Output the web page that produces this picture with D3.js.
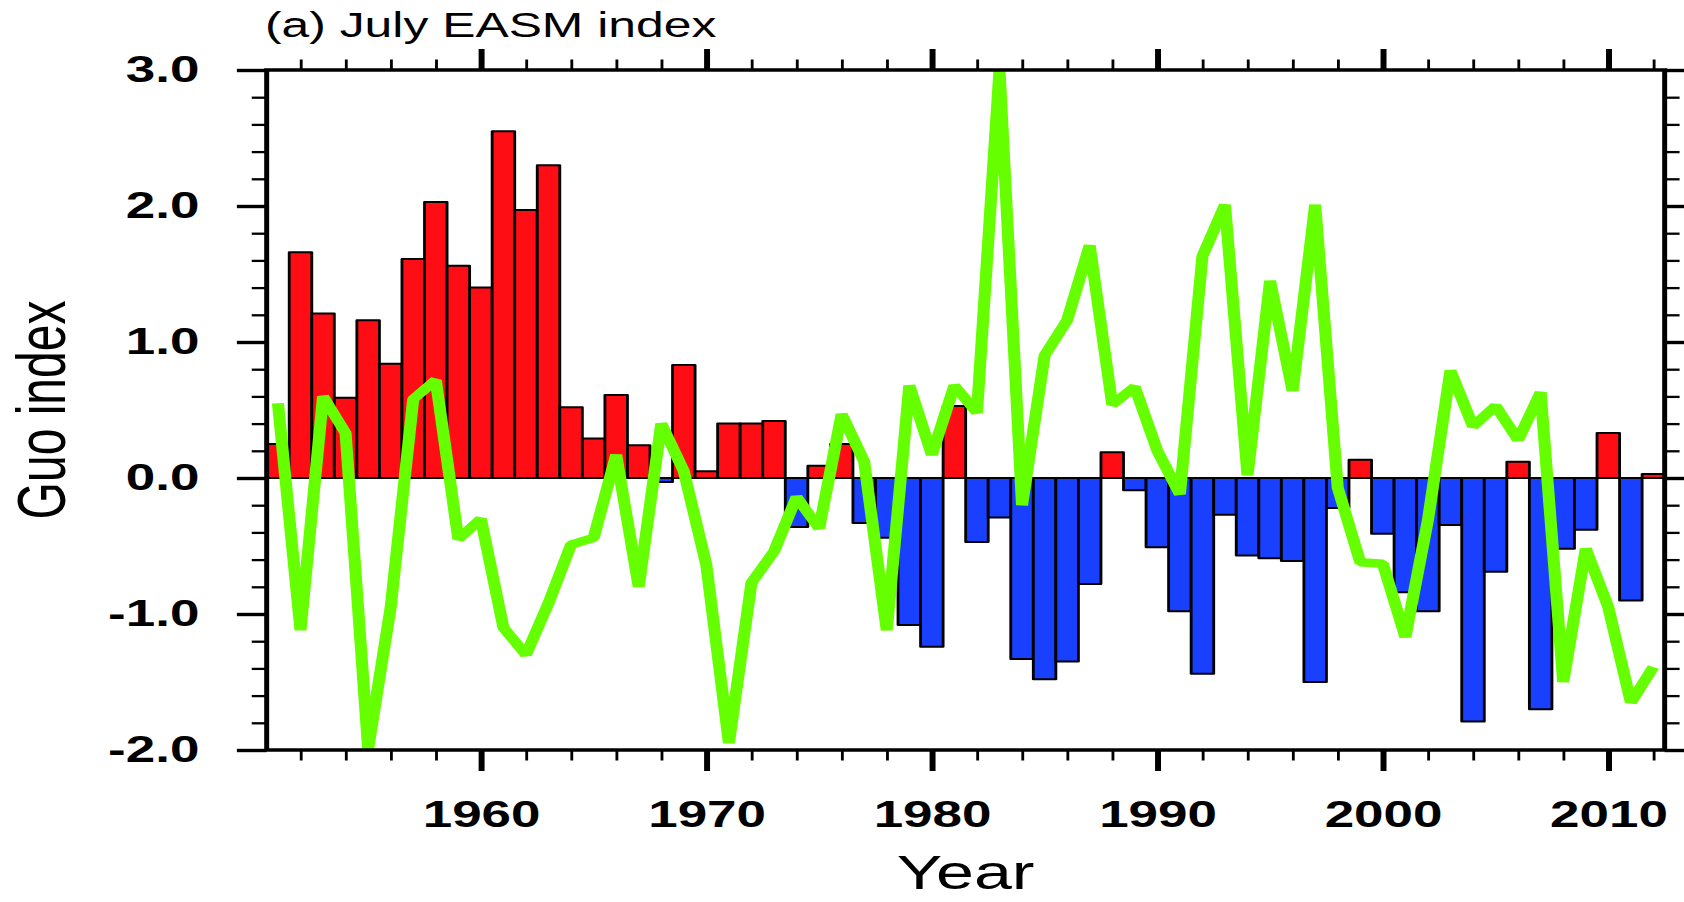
<!DOCTYPE html>
<html>
<head>
<meta charset="utf-8">
<script src="https://cdn.jsdelivr.net/npm/d3@7"></script>
<style>
  html, body { margin: 0; padding: 0; background: #fff; }
  svg { display: block; }
  text { font-family: "Liberation Sans", Arial, Helvetica, sans-serif; fill: #000; }
</style>
</head>
<body>
<svg id="chart" width="1684" height="902"></svg>
<script>
// ---- data -------------------------------------------------------------
const years = [1951, 1952, 1953, 1954, 1955, 1956, 1957, 1958, 1959, 1960,
               1961, 1962, 1963, 1964, 1965, 1966, 1967, 1968, 1969, 1970,
               1971, 1972, 1973, 1974, 1975, 1976, 1977, 1978, 1979, 1980,
               1981, 1982, 1983, 1984, 1985, 1986, 1987, 1988, 1989, 1990,
               1991, 1992, 1993, 1994, 1995, 1996, 1997, 1998, 1999, 2000,
               2001, 2002, 2003, 2004, 2005, 2006, 2007, 2008, 2009, 2010,
               2011, 2012];

// July EASM index (bars)
const easmIndex = [0.25, 1.66, 1.21, 0.59, 1.16, 0.84, 1.61, 2.03, 1.56, 1.40,
                   2.55, 1.97, 2.30, 0.52, 0.29, 0.61, 0.24, -0.03, 0.83, 0.05,
                   0.40, 0.40, 0.42, -0.36, 0.09, 0.25, -0.33, -0.44, -1.08, -1.24,
                   0.53, -0.47, -0.29, -1.33, -1.48, -1.35, -0.78, 0.19, -0.09, -0.51,
                   -0.98, -1.44, -0.27, -0.57, -0.59, -0.61, -1.50, -0.22, 0.135, -0.41,
                   -0.84, -0.98, -0.345, -1.79, -0.69, 0.12, -1.70, -0.52, -0.38, 0.33,
                   -0.90, 0.03];

// Guo index (line)
const guoIndex = [0.55, -1.12, 0.60, 0.33, -1.99, -0.95, 0.58, 0.72, -0.45, -0.30,
                  -1.10, -1.30, -0.92, -0.49, -0.44, 0.17, -0.80, 0.40, 0.05, -0.64,
                  -1.95, -0.77, -0.54, -0.14, -0.37, 0.47, 0.12, -1.12, 0.68, 0.17,
                  0.68, 0.48, 3.00, -0.20, 0.90, 1.16, 1.71, 0.54, 0.67, 0.20,
                  -0.12, 1.63, 2.01, 0.02, 1.45, 0.64, 2.01, -0.07, -0.62, -0.63,
                  -1.17, -0.31, 0.79, 0.38, 0.53, 0.28, 0.63, -1.50, -0.52, -0.95,
                  -1.65, -1.39];

const yTickValues = [-2, -1, 0, 1, 2, 3];
const xTickValues = [1960, 1970, 1980, 1990, 2000, 2010];
const titleText = "(a) July EASM index";
const xTitleText = "Year";
const yTitleText = "Guo index";

// ---- layout ------------------------------------------------------------
// Everything is drawn in a frame that is widened horizontally by `stretch`.
const stretch = 1.42;
const plot = { left: 187.8, right: 1172.3, top: 70, bottom: 750 };

const svg = d3.select("#chart");
const root = svg.append("g").attr("transform", `scale(${stretch},1)`);

const x = d3.scaleLinear().domain([1950.5, 2012.5]).range([plot.left, plot.right]);
const y = d3.scaleLinear().domain([-2, 3]).range([plot.bottom, plot.top]);

const posColor = "#ff0d14";
const negColor = "#1940ff";
const lineColor = "#66ff00";

// clip region for the line
root.append("clipPath").attr("id", "plotClip")
  .append("rect")
  .attr("x", plot.left).attr("y", plot.top)
  .attr("width", plot.right - plot.left)
  .attr("height", plot.bottom - plot.top);

// ---- bars ----------------------------------------------------------------
const barData = years.map((yr, i) => ({ year: yr, value: easmIndex[i] }));
root.append("g").selectAll("rect")
  .data(barData)
  .join("rect")
  .attr("x", d => x(d.year - 0.5))
  .attr("width", d => x(d.year + 0.5) - x(d.year - 0.5))
  .attr("y", d => y(Math.max(0, d.value)))
  .attr("height", d => Math.abs(y(d.value) - y(0)))
  .attr("fill", d => d.value >= 0 ? posColor : negColor)
  .attr("stroke", "#000")
  .attr("stroke-width", 2)
  .attr("stroke-linejoin", "round");

// ---- line ----------------------------------------------------------------
const lineData = years.map((yr, i) => ({ year: yr, value: guoIndex[i] }));
root.append("path")
  .datum(lineData)
  .attr("clip-path", "url(#plotClip)")
  .attr("fill", "none")
  .attr("stroke", lineColor)
  .attr("stroke-width", 8.5)
  .attr("stroke-linejoin", "bevel")
  .attr("stroke-linecap", "butt")
  .attr("d", d3.line().x(d => x(d.year)).y(d => y(d.value)));

// ---- axes ----------------------------------------------------------------
const majorLen = 21, minorLen = 10.5;
const xMinor = d3.range(1952, 2013, 2).filter(v => v % 10 !== 0);
const yMinor = d3.range(-20, 31, 2).filter(v => v % 10 !== 0).map(v => v / 10);

function styleTicks(g, width) {
  g.select(".domain").remove();
  g.selectAll(".tick line").attr("stroke", "#000").attr("stroke-width", width);
}
function styleLabels(g) {
  g.selectAll(".tick text")
    .attr("font-family", null)
    .style("font-size", "37.3px")
    .style("font-weight", "bold")
    .attr("fill", "#000");
}

// bottom
root.append("g").attr("transform", `translate(0,${plot.bottom})`)
  .call(d3.axisBottom(x).tickValues(xMinor).tickSize(minorLen).tickFormat(""))
  .call(g => styleTicks(g, 2));
root.append("g").attr("transform", `translate(0,${plot.bottom})`)
  .call(d3.axisBottom(x).tickValues(xTickValues).tickSize(majorLen).tickPadding(30).tickFormat(d3.format("d")))
  .call(g => styleTicks(g, 4.2))
  .call(styleLabels);

// top
root.append("g").attr("transform", `translate(0,${plot.top})`)
  .call(d3.axisTop(x).tickValues(xMinor).tickSize(minorLen).tickFormat(""))
  .call(g => styleTicks(g, 2));
root.append("g").attr("transform", `translate(0,${plot.top})`)
  .call(d3.axisTop(x).tickValues(xTickValues).tickSize(majorLen).tickFormat(""))
  .call(g => styleTicks(g, 4.2));

// left
root.append("g").attr("transform", `translate(${plot.left},0)`)
  .call(d3.axisLeft(y).tickValues(yMinor).tickSize(minorLen).tickFormat(""))
  .call(g => styleTicks(g, 2.3));
root.append("g").attr("transform", `translate(${plot.left},0)`)
  .call(d3.axisLeft(y).tickValues(yTickValues).tickSize(majorLen).tickPadding(26.4).tickFormat(d => d.toFixed(1)))
  .call(g => styleTicks(g, 3.4))
  .call(styleLabels);

// right
root.append("g").attr("transform", `translate(${plot.right},0)`)
  .call(d3.axisRight(y).tickValues(yMinor).tickSize(minorLen).tickFormat(""))
  .call(g => styleTicks(g, 2.3));
root.append("g").attr("transform", `translate(${plot.right},0)`)
  .call(d3.axisRight(y).tickValues(yTickValues).tickSize(majorLen).tickFormat(""))
  .call(g => styleTicks(g, 3.4));

// frame
root.append("rect")
  .attr("x", plot.left).attr("y", plot.top)
  .attr("width", plot.right - plot.left)
  .attr("height", plot.bottom - plot.top)
  .attr("fill", "none")
  .attr("stroke", "#000")
  .attr("stroke-width", 3.5);

// ---- titles ----------------------------------------------------------------
root.append("text")
  .attr("x", 186.6).attr("y", 37)
  .style("font-size", "35.1px")
  .text(titleText);

root.append("text")
  .attr("x", (plot.left + plot.right) / 2).attr("y", 889)
  .attr("text-anchor", "middle")
  .style("font-size", "48px")
  .text(xTitleText);

root.append("text")
  .attr("transform", `translate(45.8,${(plot.top + plot.bottom) / 2}) rotate(-90)`)
  .attr("text-anchor", "middle")
  .style("font-size", "48px")
  .text(yTitleText);
</script>
</body>
</html>
